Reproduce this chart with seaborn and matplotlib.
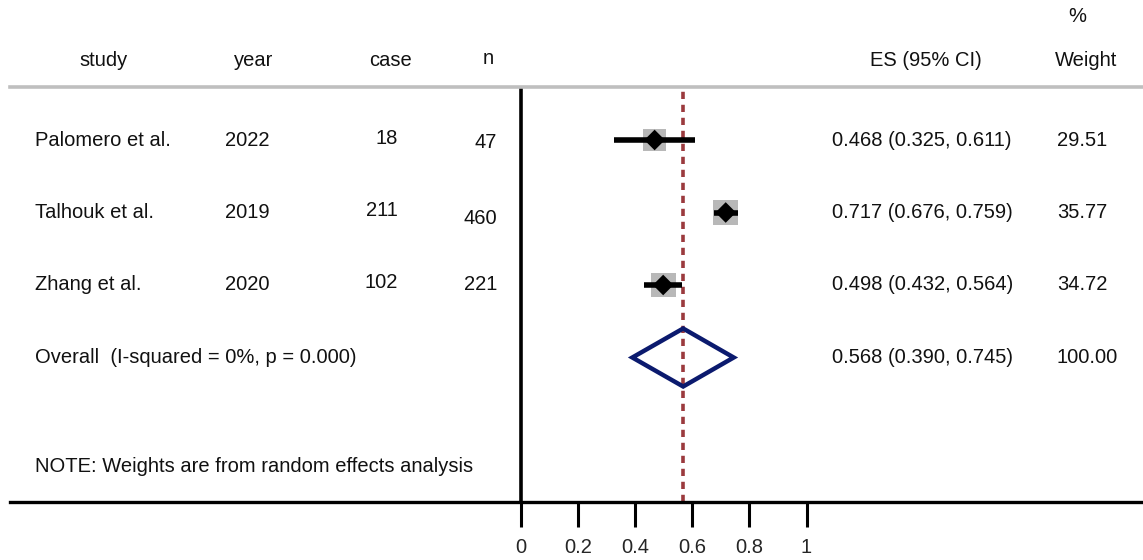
import numpy as np
import pandas as pd
import seaborn as sns
import matplotlib.pyplot as plt
from matplotlib.patches import Polygon

# Forest plot data
studies = ['Palomero et al.', 'Talhouk et al.', 'Zhang et al.']
years = ['2022', '2019', '2020']
cases = ['18', '211', '102']
ns = ['47', '460', '221']
es = [0.468, 0.717, 0.498]
ci_low = [0.325, 0.676, 0.432]
ci_high = [0.611, 0.759, 0.564]
weights = [29.51, 35.77, 34.72]
overall_es = 0.568
overall_low = 0.390
overall_high = 0.745
overall_label = 'Overall  (I-squared = 0%, p = 0.000)'
note = 'NOTE: Weights are from random effects analysis'
xticks = [0, 0.2, 0.4, 0.6, 0.8, 1]
xtick_labels = ['0', '0.2', '0.4', '0.6', '0.8', '1']

sns.set_style('white')
plt.rcParams['font.family'] = ['Liberation Sans', 'DejaVu Sans']

W, H = 1143, 560
FS = 14.5
fig = plt.figure(figsize=(W / 100, H / 100), dpi=100)

# axes spans x pixels 10..1143, y pixels 87..502 ; x=0 at 521 px, x=1 at 806 px
px_per_unit = 285.5
x0_px = 521
ax = fig.add_axes([10 / W, 1 - 502 / H, 1 - 10 / W, (502 - 87) / H])
ax.set_xlim((10 - x0_px) / px_per_unit, (W - x0_px) / px_per_unit)
ax.set_ylim(502, 87)

row_y = [140 + 72.5 * i for i in range(4)]

df = pd.DataFrame({'study': studies, 'es': es, 'lo': ci_low, 'hi': ci_high,
                   'w': weights, 'y': row_y[:3]})

# vertical null line and overall dashed line
ax.axvline(0, color='black', lw=2.6, zorder=2)
ax.axvline(overall_es, color='#9b3a3e', lw=2.6, ls=(0, (2.0, 1.6)), zorder=1)

# weight boxes (side proportional to sqrt of weight)
box_side = np.sqrt(np.array(weights)) * 4.2 * 0.72
ax.scatter(df['es'], df['y'], marker='s', s=box_side ** 2,
           color='#b8b8b8', edgecolor='none', zorder=3)

# confidence intervals
ax.hlines(df['y'], df['lo'], df['hi'], color='black', lw=4, zorder=4)
sns.scatterplot(data=df, x='es', y='y', marker='D', s=110, color='black',
                edgecolor='none', ax=ax, zorder=5, legend=False)

# overall diamond
yo = row_y[3]
diamond = Polygon([[overall_low, yo], [overall_es, yo - 29],
                   [overall_high, yo], [overall_es, yo + 29]],
                  closed=True, fill=False, edgecolor='#0b1a6e', lw=3.2,
                  joinstyle='miter', zorder=5)
ax.add_patch(diamond)

# spines and ticks
for s in ['left', 'right']:
    ax.spines[s].set_visible(False)
ax.spines['top'].set_color('#bfbfbf')
ax.spines['top'].set_linewidth(2.6)
ax.spines['bottom'].set_color('black')
ax.spines['bottom'].set_linewidth(2.4)
ax.set_xticks(xticks)
ax.set_xticklabels(xtick_labels, fontsize=FS)
ax.set_yticks([])
ax.tick_params(axis='x', direction='out', length=18, width=2.2,
               color='black', pad=8, bottom=True)
ax.set_xlabel('')
ax.set_ylabel('')


def tx(x, y, s, ha='left'):
    fig.text(x / W, 1 - y / H, s, ha=ha, va='center', fontsize=FS, color='#111111')


# headers
tx(104, 60, 'study', 'center')
tx(254, 60, 'year', 'center')
tx(390, 60, 'case', 'center')
tx(488, 58, 'n', 'center')
tx(926, 60, 'ES (95% CI)', 'center')
tx(1086, 60, 'Weight', 'center')
tx(1077, 16, '%', 'center')

# rows
n_y = [143, 218, 284]
for i in range(3):
    y = row_y[i]
    tx(35, y, studies[i])
    tx(247, y, years[i], 'center')
    tx(398, y - 2, cases[i], 'right')
    tx(497, n_y[i], ns[i], 'right')
    tx(832, y, f'{es[i]:.3f} ({ci_low[i]:.3f}, {ci_high[i]:.3f})')
    tx(1057, y, f'{weights[i]:.2f}')

tx(35, row_y[3], overall_label)
tx(832, row_y[3], f'{overall_es:.3f} ({overall_low:.3f}, {overall_high:.3f})')
tx(1057, row_y[3], f'{sum(weights):.2f}')
tx(35, 466, note)

fig.savefig('out.png', dpi=100)
